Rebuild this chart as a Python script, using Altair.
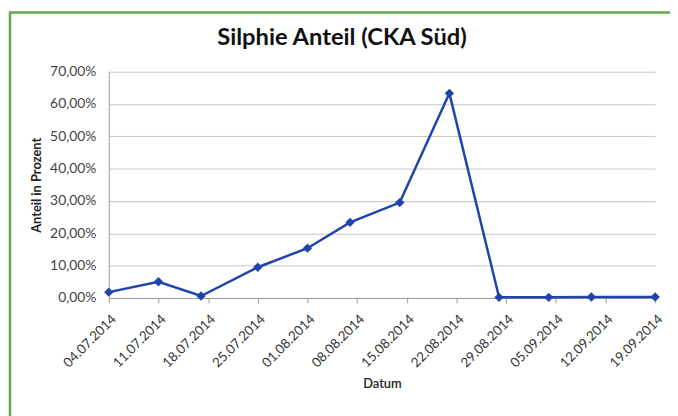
import altair as alt
import pandas as pd

dates = ["2014-07-04", "2014-07-11", "2014-07-17", "2014-07-25", "2014-08-01", "2014-08-07",
         "2014-08-14", "2014-08-21", "2014-08-28", "2014-09-04", "2014-09-10", "2014-09-19"]
values = [0.018, 0.050, 0.006, 0.095, 0.154, 0.234, 0.295, 0.633, 0.002, 0.002, 0.003, 0.003]
tick_dates = [(2014, 7, 4), (2014, 7, 11), (2014, 7, 18), (2014, 7, 25), (2014, 8, 1), (2014, 8, 8),
              (2014, 8, 15), (2014, 8, 22), (2014, 8, 29), (2014, 9, 5), (2014, 9, 12), (2014, 9, 19)]
y_ticks = [0, 0.1, 0.2, 0.3, 0.4, 0.5, 0.6, 0.7]
title_text = "Silphie Anteil (CKA Süd)"

df = pd.DataFrame({"Datum": dates, "Anteil": values})

FONT = "Lato"
BLUE = "#1F45AC"
GREEN = "#5DAA48"

tvals = [alt.DateTime(year=y, month=m, date=d, utc=True) for (y, m, d) in tick_dates]

x = alt.X("Datum:T",
          scale=alt.Scale(type="utc", domain=[tvals[0], tvals[-1]]),
          axis=alt.Axis(values=tvals, format="%d.%m.%Y", labelAngle=-45, title="Datum",
                        labelOverlap=False, labelBound=False, labelFlush=False,
                        grid=False, tickSize=5, tickColor="#9a9a9a", domainColor="#9a9a9a",
                        labelFontSize=13.5, labelColor="#333333", labelPadding=9,
                        titleFontSize=13, titleFontWeight=600, titleColor="#222222",
                        titlePadding=8))
y = alt.Y("Anteil:Q",
          scale=alt.Scale(domain=[0, 0.7], nice=False),
          axis=alt.Axis(values=y_ticks,
                        labelExpr="replace(format(datum.value, '.2%'), '.', ',')",
                        title="Anteil in Prozent", grid=True, gridColor="#c4c4c4",
                        tickSize=0, domainColor="#9a9a9a", labelFontSize=14,
                        labelColor="#444444", labelPadding=13,
                        titleFontSize=13, titleFontWeight="bold", titleColor="#222222",
                        titlePadding=6))

line = alt.Chart(df).mark_line(color=BLUE, strokeWidth=2.5).encode(x=x, y=y)
pts = alt.Chart(df).mark_point(shape="diamond", filled=True, color=BLUE, size=90, opacity=1).encode(x=x, y=y)

frame = pd.DataFrame({"t": [title_text]})
left_border = alt.Chart(frame).mark_rule(color=GREEN, strokeWidth=2.5).encode(
    x=alt.value(-100), y=alt.value(-60), y2=alt.value(400))
top_border = alt.Chart(frame).mark_rule(color=GREEN, strokeWidth=2.5).encode(
    x=alt.value(-101), x2=alt.value(600), y=alt.value(-60))
title = alt.Chart(frame).mark_text(font=FONT, fontSize=24, fontWeight="bold", color="#111111",
                                   align="center", baseline="middle").encode(
    text="t:N", x=alt.value(236), y=alt.value(-34))

chart = alt.layer(left_border, top_border, title, line, pts).properties(
    width=553, height=229,
    autosize=alt.AutoSizeParams(type="none"),
    padding={"left": 102, "top": 62, "right": 15, "bottom": 117},
).configure(font=FONT, background="white").configure_view(stroke=None)

chart.save("out.html", embed_options={"renderer": "svg", "actions": False})
